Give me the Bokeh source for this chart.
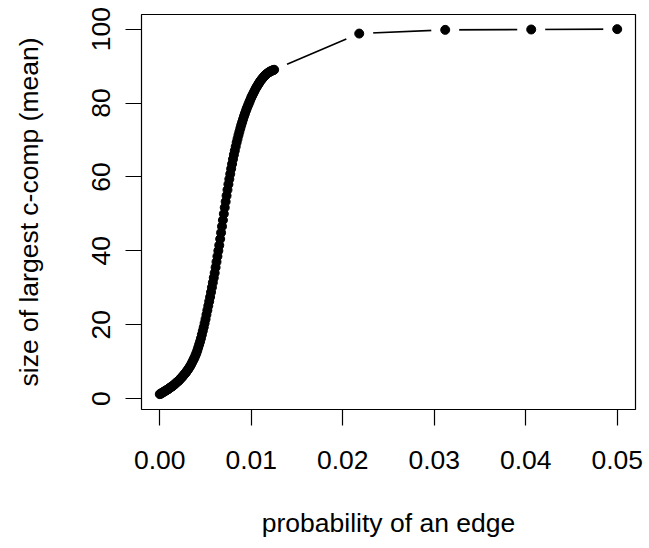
from bokeh.plotting import figure
from bokeh.models import Range1d, FixedTicker
from bokeh.embed import file_html
from bokeh.resources import INLINE

# edge probability (x) and mean size of largest connected component (y)
prob = [
    0.0000, 0.0001, 0.0002, 0.0003, 0.0004, 0.0005, 0.0006, 0.0007, 0.0008, 0.0009,
    0.0010, 0.0011, 0.0012, 0.0013, 0.0014, 0.0015, 0.0016, 0.0017, 0.0018, 0.0019,
    0.0020, 0.0021, 0.0022, 0.0023, 0.0024, 0.0025, 0.0026, 0.0027, 0.0028, 0.0029,
    0.0030, 0.0031, 0.0032, 0.0033, 0.0034, 0.0035, 0.0036, 0.0037, 0.0038, 0.0039,
    0.0040, 0.0041, 0.0042, 0.0043, 0.0044, 0.0045, 0.0046, 0.0047, 0.0048, 0.0049,
    0.0050, 0.0051, 0.0052, 0.0053, 0.0054, 0.0055, 0.0056, 0.0057, 0.0058, 0.0059,
    0.0060, 0.0061, 0.0062, 0.0063, 0.0064, 0.0065, 0.0066, 0.0067, 0.0068, 0.0069,
    0.0070, 0.0071, 0.0072, 0.0073, 0.0074, 0.0075, 0.0076, 0.0077, 0.0078, 0.0079,
    0.0080, 0.0081, 0.0082, 0.0083, 0.0084, 0.0085, 0.0086, 0.0087, 0.0088, 0.0089,
    0.0090, 0.0091, 0.0092, 0.0093, 0.0094, 0.0095, 0.0096, 0.0097, 0.0098, 0.0099,
    0.0100, 0.0101, 0.0102, 0.0103, 0.0104, 0.0105, 0.0106, 0.0107, 0.0108, 0.0109,
    0.0110, 0.0111, 0.0112, 0.0113, 0.0114, 0.0115, 0.0116, 0.0117, 0.0118, 0.0119,
    0.0120, 0.0121, 0.0122, 0.0123, 0.0124, 0.0125,
    0.0218, 0.0312, 0.0406, 0.0500,
]
size_mean = [
    1.2, 1.3, 1.5, 1.6, 1.8, 1.9, 2.1, 2.2, 2.4, 2.5,
    2.7, 2.9, 3.1, 3.2, 3.4, 3.6, 3.8, 4.0, 4.3, 4.5,
    4.7, 4.9, 5.2, 5.5, 5.7, 6.0, 6.3, 6.6, 6.9, 7.2,
    7.6, 7.9, 8.3, 8.7, 9.1, 9.6, 10.1, 10.6, 11.1, 11.7,
    12.3, 13.0, 13.8, 14.6, 15.4, 16.3, 17.3, 18.3, 19.3, 20.4,
    21.5, 22.7, 23.9, 25.1, 26.3, 27.5, 28.8, 30.1, 31.4, 32.7,
    34.0, 35.5, 37.0, 38.5, 40.0, 41.5, 43.2, 44.9, 46.6, 48.3,
    50.0, 51.7, 53.3, 54.9, 56.5, 58.0, 59.4, 60.8, 62.2, 63.5,
    64.8, 66.0, 67.1, 68.2, 69.3, 70.3, 71.3, 72.2, 73.1, 74.0,
    74.8, 75.6, 76.4, 77.1, 77.8, 78.5, 79.1, 79.7, 80.3, 80.9,
    81.5, 82.0, 82.5, 83.0, 83.5, 84.0, 84.4, 84.8, 85.2, 85.6,
    86.0, 86.3, 86.6, 86.9, 87.2, 87.5, 87.7, 87.9, 88.1, 88.3,
    88.4, 88.6, 88.7, 88.8, 88.9, 89.0,
    98.8, 99.8, 99.9, 100.0,
]

x_ticks = [0.00, 0.01, 0.02, 0.03, 0.04, 0.05]
x_tick_labels = ["0.00", "0.01", "0.02", "0.03", "0.04", "0.05"]
y_ticks = [0, 20, 40, 60, 80, 100]

FONT = "Liberation Sans"
FS = "26.5px"

p = figure(width=649, height=548, output_backend="svg", toolbar_location=None,
           x_range=Range1d(-0.002, 0.052), y_range=Range1d(-2.96, 103.96),
           min_border_left=141, min_border_right=14, min_border_top=14,
           min_border_bottom=139)

p.xgrid.visible = False
p.ygrid.visible = False
p.outline_line_color = "black"
p.outline_line_width = 1.2
p.background_fill_color = "white"
p.border_fill_color = "white"

p.line(prob, size_mean, line_color="black", line_width=1.6)
p.scatter(prob, size_mean, size=28, fill_color="white", line_color=None)
p.scatter(prob, size_mean, size=9, fill_color="black", line_color="black")

for ax in (p.xaxis[0], p.yaxis[0]):
    ax.axis_line_color = None
    ax.major_tick_line_color = "black"
    ax.major_tick_line_width = 1.2
    ax.major_tick_in = 0
    ax.major_tick_out = 16
    ax.minor_tick_line_color = None
    ax.major_label_text_font = FONT
    ax.major_label_text_font_size = FS
    ax.major_label_text_color = "black"
    ax.axis_label_text_font = FONT
    ax.axis_label_text_font_size = FS
    ax.axis_label_text_font_style = "normal"
    ax.axis_label_text_color = "black"

p.xaxis[0].ticker = FixedTicker(ticks=x_ticks)
p.xaxis[0].major_label_overrides = {t: l for t, l in zip(x_ticks, x_tick_labels)}
p.xaxis[0].axis_label = "probability of an edge"
p.xaxis[0].major_label_standoff = 25
p.xaxis[0].axis_label_standoff = 36

p.yaxis[0].ticker = FixedTicker(ticks=y_ticks)
p.yaxis[0].major_label_orientation = "vertical"
p.yaxis[0].axis_label = "size of largest c-comp (mean)"
p.yaxis[0].major_label_standoff = 15
p.yaxis[0].axis_label_standoff = 46

open("out.html", "w").write(file_html(p, INLINE))
